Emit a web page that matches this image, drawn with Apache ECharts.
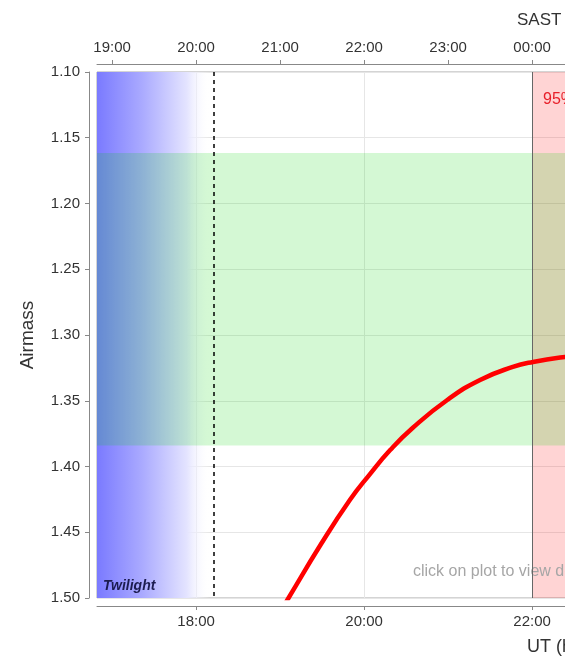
<!DOCTYPE html>
<html>
<head>
<meta charset="utf-8">
<title>Airmass</title>
<script src="https://cdn.jsdelivr.net/npm/echarts@6/dist/echarts.min.js"></script>
<style>
  html, body { margin: 0; padding: 0; background: #fff; }
  #chart { width: 565px; height: 659px; }
</style>
</head>
<body>
<div id="chart"></div>
<script>
// UT in decimal hours, airmass
var utHours = [18.94, 19.10, 19.48, 19.83, 20.06, 20.31, 20.58, 20.99, 21.38, 21.77, 22.01, 22.39, 22.70];
var airmass = [1.517, 1.500, 1.4597, 1.4255, 1.4065, 1.3875, 1.3705, 1.3494, 1.3342, 1.3243, 1.3205, 1.3167, 1.3148];

// axes
var utMin = 16.82;
var utMax = 24;
var utTicks = [18, 20, 22, 24];
var sastTicks = [17, 18, 19, 20, 21, 22, 23, 24]; // UT positions, shown as SAST = UT + 2
var sastOffset = 2;
var airmassMin = 1.10;
var airmassMax = 1.50;
var airmassStep = 0.05;

// bands and markers
var twilightEnd = 18.21;      // dashed line
var goodBand = [1.1616, 1.384]; // green airmass band
var pinkStart = 22.0;

var FONT = "'Liberation Sans', Arial, sans-serif";
var PX_PER_HOUR = 84;

function hhmm(v) {
    var h = ((Math.round(v) % 24) + 24) % 24;
    return (h < 10 ? "0" + h : "" + h) + ":00";
}

var chart = echarts.init(document.getElementById("chart"));

var curve = utHours.map(function (t, i) {
    return [t, airmass[i]];
});

var option = {
    animation: false,
    backgroundColor: "#fff",
    grid: {
        left: 97,
        top: 72,
        bottom: 61,
        // plot runs on past the right edge of the window
        width: (utMax - utMin) * PX_PER_HOUR,
        containLabel: false,
        outerBoundsMode: "none",
        show: true,
        backgroundColor: "#fff",
        borderColor: "#a8a8a8",
        borderWidth: 1,
    },
    xAxis: [{
            type: "value",
            position: "bottom",
            min: utMin,
            max: utMax,
            offset: 8,
            axisLine: { lineStyle: { color: "#888" } },
            axisTick: { length: 4, lineStyle: { color: "#888" }, customValues: utTicks },
            axisLabel: {
                customValues: utTicks,
                color: "#333",
                fontFamily: FONT,
                fontSize: 15,
                margin: 8,
                formatter: hhmm,
            },
            splitLine: { show: true, lineStyle: { color: "#e6e6e6" } },
        },
        {
            type: "value",
            position: "top",
            min: utMin,
            max: utMax,
            offset: 8,
            axisLine: { lineStyle: { color: "#888" } },
            axisTick: { length: 4, lineStyle: { color: "#888" }, customValues: sastTicks },
            axisLabel: {
                customValues: sastTicks,
                color: "#333",
                fontFamily: FONT,
                fontSize: 15,
                margin: 9,
                formatter: function (v) {
                    return hhmm(v + sastOffset);
                },
            },
            splitLine: { show: false },
        },
    ],
    yAxis: {
        type: "value",
        inverse: true,
        min: airmassMin,
        max: airmassMax,
        interval: airmassStep,
        offset: 8,
        axisLine: { show: true, lineStyle: { color: "#888" } },
        axisTick: { show: true, length: 4, lineStyle: { color: "#888" } },
        axisLabel: {
            color: "#333",
            fontFamily: FONT,
            fontSize: 15,
            margin: 9,
            formatter: function (v) {
                return v.toFixed(2);
            },
        },
        splitLine: { show: true, lineStyle: { color: "#e6e6e6" } },
    },
    series: [
        // twilight gradient
        {
            type: "line",
            data: [],
            z: 1,
            silent: true,
            markArea: {
                silent: true,
                itemStyle: {
                    color: {
                        type: "linear",
                        x: 0,
                        y: 0,
                        x2: 1,
                        y2: 0,
                        colorStops: [
                            { offset: 0, color: "rgba(122,122,255,1)" },
                            { offset: 0.4, color: "rgba(170,170,255,1)" },
                            { offset: 0.8, color: "rgba(228,228,255,1)" },
                            { offset: 1, color: "rgba(255,255,255,0)" },
                        ],
                    },
                },
                data: [[{ xAxis: utMin }, { xAxis: twilightEnd - 0.05 }]],
            },
        },
        // pink region
        {
            type: "line",
            data: [],
            z: 2,
            silent: true,
            markArea: {
                silent: true,
                itemStyle: { color: "rgba(255,0,0,0.17)" },
                data: [[{ xAxis: pinkStart }, { xAxis: utMax }]],
            },
        },
        // green airmass band
        {
            type: "line",
            data: [],
            z: 3,
            silent: true,
            markArea: {
                silent: true,
                itemStyle: { color: "rgba(0,215,0,0.17)" },
                data: [[{ yAxis: goodBand[0] }, { yAxis: goodBand[1] }]],
            },
        },
        // vertical markers
        {
            type: "line",
            data: [],
            z: 4,
            silent: true,
            markLine: {
                silent: true,
                symbol: "none",
                label: { show: false },
                data: [{
                        xAxis: twilightEnd,
                        lineStyle: { color: "#000", type: [4, 4], width: 1.5 },
                    },
                    {
                        xAxis: pinkStart,
                        lineStyle: { color: "#666", type: "solid", width: 1 },
                    },
                ],
            },
        },
        // airmass curve
        {
            type: "line",
            z: 5,
            data: curve,
            smooth: 0.5,
            symbol: "none",
            clip: true,
            lineStyle: { color: "#ff0000", width: 4.5 },
        },
    ],
    graphic: [{
            type: "text",
            left: 103,
            top: 579,
            z: 10,
            style: {
                text: "Twilight",
                fill: "#1c1c50",
                font: "italic bold 14px " + FONT,
            },
        },
        {
            type: "text",
            left: 413,
            top: 564,
            z: 1.5,
            style: {
                text: "click on plot to view details",
                fill: "#a6a6a6",
                font: "16px " + FONT,
            },
        },
        {
            type: "text",
            left: 543,
            top: 92,
            z: 10,
            style: {
                text: "95%",
                fill: "#e8202a",
                font: "16px " + FONT,
            },
        },
        {
            type: "text",
            left: 517,
            top: 12,
            style: {
                text: "SAST",
                fill: "#333",
                font: "17px " + FONT,
            },
        },
        {
            type: "text",
            left: 527,
            top: 638,
            style: {
                text: "UT (hours)",
                fill: "#333",
                font: "18px " + FONT,
            },
        },
        {
            type: "text",
            x: 28,
            y: 335,
            rotation: Math.PI / 2,
            style: {
                text: "Airmass",
                fill: "#333",
                font: "19px " + FONT,
                align: "center",
                verticalAlign: "middle",
            },
        },
    ],
};

chart.setOption(option);
</script>
</body>
</html>
